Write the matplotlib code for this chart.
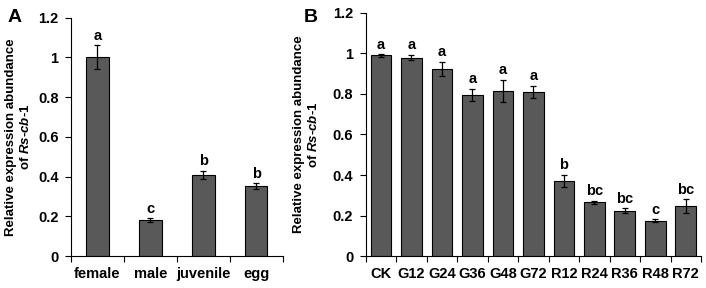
import numpy as np
import matplotlib.pyplot as plt
from matplotlib.ticker import FixedLocator, FuncFormatter

plt.rcParams['font.family'] = ['Liberation Sans', 'DejaVu Sans']
plt.rcParams['font.weight'] = 'bold'
plt.rcParams['mathtext.fontset'] = 'custom'
plt.rcParams['mathtext.it'] = 'Liberation Sans:italic:bold'
plt.rcParams['mathtext.bf'] = 'Liberation Sans:bold'
plt.rcParams['mathtext.rm'] = 'Liberation Sans:bold'

# panel A data
stages = ['female', 'male', 'juvenile', 'egg']
stage_vals = [1.0, 0.18, 0.41, 0.35]
stage_err = [0.06, 0.01, 0.02, 0.015]
stage_lett = ['a', 'c', 'b', 'b']

# panel B data
treats = ['CK', 'G12', 'G24', 'G36', 'G48', 'G72', 'R12', 'R24', 'R36', 'R48', 'R72']
treat_vals = [0.99, 0.98, 0.925, 0.795, 0.815, 0.81, 0.372, 0.266, 0.223, 0.174, 0.245]
treat_err = [0.005, 0.013, 0.035, 0.03, 0.055, 0.03, 0.03, 0.008, 0.012, 0.008, 0.035]
treat_lett = ['a', 'a', 'a', 'a', 'a', 'a', 'b', 'bc', 'bc', 'c', 'bc']

yticks = [0, 0.2, 0.4, 0.6, 0.8, 1.0, 1.2]

fig = plt.figure(figsize=(7.06, 2.88), dpi=100)
axA = fig.add_axes([0.1006, 0.111, 0.300, 0.828])
axB = fig.add_axes([0.518, 0.111, 0.475, 0.844])


def draw(ax, names, vals, errs, letts, width, labx):
    x = np.arange(len(names))
    ax.bar(x, vals, width=width, color='#595959', edgecolor='black', linewidth=0.8, zorder=2)
    ax.errorbar(x, vals, yerr=errs, fmt='none', ecolor='black', elinewidth=0.9,
                capsize=2.5, capthick=0.9, zorder=3)
    for xi, v, e, l in zip(x, vals, errs, letts):
        ax.text(xi, v + e + 0.012, l, ha='center', va='bottom', fontsize=10.5, fontweight='bold')
    ax.set_xlim(-0.5, len(names) - 0.5)
    ax.set_ylim(0, 1.2)
    ax.set_yticks(yticks)
    ax.yaxis.set_major_formatter(FuncFormatter(lambda v, p: '%g' % round(v, 1)))
    ax.set_xticks(x)
    ax.set_xticklabels(names, fontsize=10.5, fontweight='bold')
    ax.xaxis.set_minor_locator(FixedLocator(np.arange(len(names) + 1) - 0.5))
    ax.tick_params(axis='x', which='major', length=0, pad=8)
    ax.tick_params(axis='x', which='minor', length=4, width=0.8)
    ax.tick_params(axis='y', length=4, width=0.8, labelsize=10.5, pad=5)
    for lab in ax.get_yticklabels():
        lab.set_fontweight('bold')
    for s in ['top', 'right']:
        ax.spines[s].set_visible(False)
    for s in ['left', 'bottom']:
        ax.spines[s].set_linewidth(0.8)
    ax.set_ylabel('Relative expression abundance\nof $\\it{Rs}$-$\\it{cb}$-$\\it{1}$',
                  fontsize=9.5, fontweight='bold')
    ax.yaxis.set_label_coords(labx, 0.5)


draw(axA, stages, stage_vals, stage_err, stage_lett, 0.42, -0.184)
draw(axB, treats, treat_vals, treat_err, treat_lett, 0.68, -0.137)

fig.text(0.01, 0.94, 'A', fontsize=14, fontweight='bold', va='center')
fig.text(0.43, 0.94, 'B', fontsize=14, fontweight='bold', va='center')

fig.savefig('out.png', dpi=100)
